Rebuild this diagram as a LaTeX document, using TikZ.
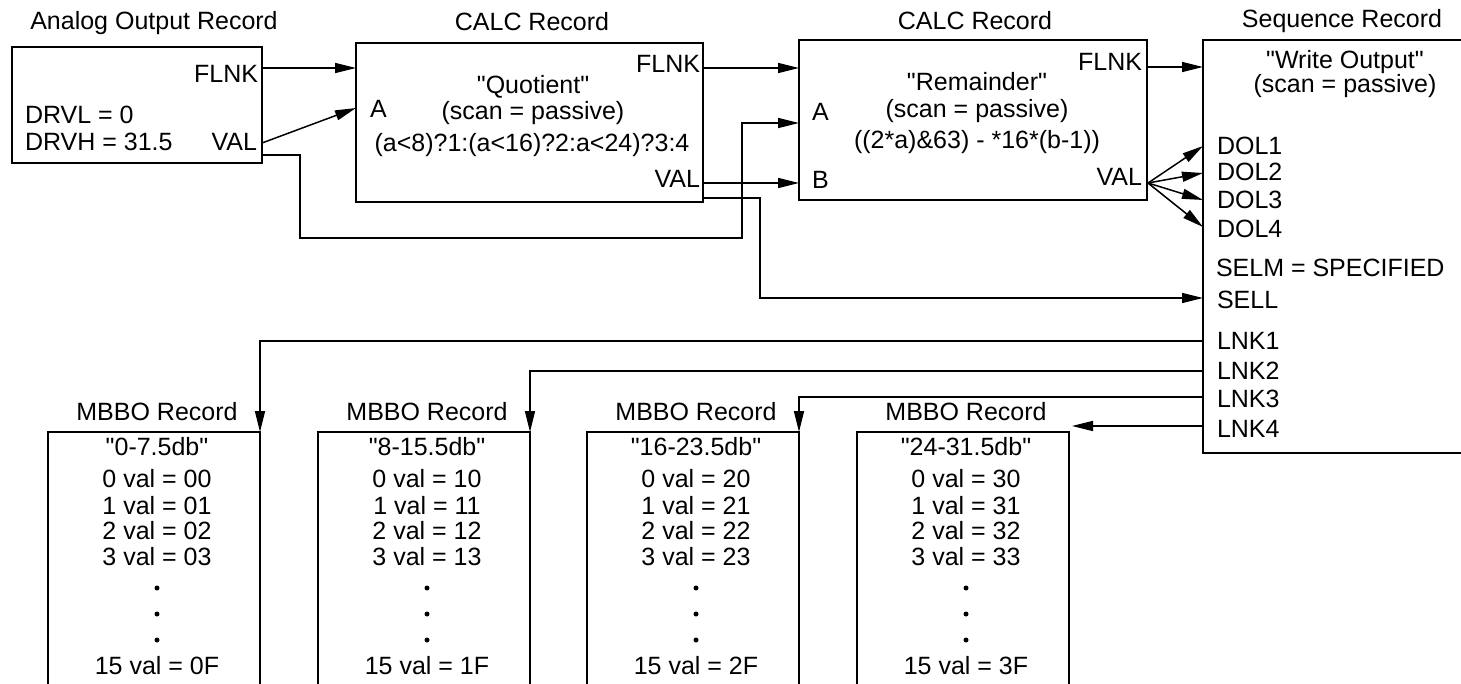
\documentclass[tikz,border=0pt]{standalone}
\usepackage{fontspec}
\setmainfont{Liberation Sans}
\newfontfamily\qfont{Liberation Sans}
\usetikzlibrary{arrows.meta}
\newcommand{\qq}{{\qfont"}}
\begin{document}
\begin{tikzpicture}[x=1pt,y=-1pt,
  font=\fontsize{25}{28}\selectfont,
  line width=1.5pt,
  box/.style={draw, inner sep=0pt, outer sep=0pt},
  lbl/.style={inner sep=0pt, outer sep=0pt},
  arr/.style={-{Triangle[length=21pt,width=10pt]}}]
\useasboundingbox[fill=white] (0,0) rectangle (1461,683);

% Analog Output Record
\node[lbl] (ao-title) at (154,23) {Analog Output Record};
\node[box, minimum width=250pt, minimum height=116pt] (ao) at (137,105) {};
\node[lbl, anchor=east] (ao-flnk-t) at (258,74) {FLNK};
\node[lbl, anchor=east] (ao-val-t) at (257,142) {VAL};
\node[lbl, anchor=west] (ao-drvl) at (25,115) {DRVL = 0};
\node[lbl, anchor=west] (ao-drvh) at (25,142) {DRVH = 31.5};
\coordinate (ao-flnk) at (262,68);
\coordinate (ao-val) at (262,143);
\coordinate (ao-out) at (262,155);

% CALC Record 1
\node[lbl] (c1-title) at (532,22) {CALC Record};
\node[box, minimum width=347pt, minimum height=159pt] (c1) at (529.5,122.5) {};
\node[lbl, anchor=east] (c1-flnk-t) at (700,64) {FLNK};
\node[lbl] (c1-name) at (533,87) {\qq Quotient\qq};
\node[lbl] (c1-scan) at (533,113) {(scan = passive)};
\node[lbl] (c1-calc) at (532,145) {(a<8)?1:(a<16)?2:a<24)?3:4};
\node[lbl, anchor=west] (c1-a-t) at (370,109) {A};
\node[lbl, anchor=east] (c1-val-t) at (700,179) {VAL};
\coordinate (c1-flnkin) at (356,68);
\coordinate (c1-a) at (356,108);
\coordinate (c1-flnk) at (703,68);
\coordinate (c1-val) at (703,183);
\coordinate (c1-out) at (703,198);

% CALC Record 2
\node[lbl] (c2-title) at (975,21) {CALC Record};
\node[box, minimum width=348pt, minimum height=160pt] (c2) at (973,120) {};
\node[lbl, anchor=east] (c2-flnk-t) at (1142,62) {FLNK};
\node[lbl] (c2-name) at (977,82) {\qq Remainder\qq};
\node[lbl] (c2-scan) at (977,111) {(scan = passive)};
\node[lbl] (c2-calc) at (977,142) {((2*a)\&63) - *16*(b-1))};
\node[lbl, anchor=west] (c2-a-t) at (812,112) {A};
\node[lbl, anchor=west] (c2-b-t) at (812,180) {B};
\node[lbl, anchor=east] (c2-val-t) at (1142,177) {VAL};
\coordinate (c2-flnkin) at (799,68);
\coordinate (c2-a) at (799,123);
\coordinate (c2-b) at (799,183);
\coordinate (c2-flnk) at (1147,67);
\coordinate (c2-val) at (1148,183);

% Sequence Record
\node[lbl] (seq-title) at (1342,21) {Sequence Record};
\node[box, minimum width=260pt, minimum height=413pt] (seq) at (1333,246.5) {};
\node[lbl] (seq-name) at (1345,62) {\qq Write Output\qq};
\node[lbl] (seq-scan) at (1345,86) {(scan = passive)};
\node[lbl, anchor=west] (seq-dol1-t) at (1217,146) {DOL1};
\node[lbl, anchor=west] (seq-dol2-t) at (1217,172) {DOL2};
\node[lbl, anchor=west] (seq-dol3-t) at (1217,200) {DOL3};
\node[lbl, anchor=west] (seq-dol4-t) at (1217,229) {DOL4};
\node[lbl, anchor=west] (seq-selm-t) at (1216,268) {SELM = SPECIFIED};
\node[lbl, anchor=west] (seq-sell-t) at (1217,300) {SELL};
\node[lbl, anchor=west] (seq-lnk1-t) at (1217,341) {LNK1};
\node[lbl, anchor=west] (seq-lnk2-t) at (1217,371) {LNK2};
\node[lbl, anchor=west] (seq-lnk3-t) at (1217,399) {LNK3};
\node[lbl, anchor=west] (seq-lnk4-t) at (1217,429) {LNK4};
\coordinate (seq-flnk) at (1203,67);
\coordinate (seq-dol1) at (1203,146);
\coordinate (seq-dol2) at (1203,173);
\coordinate (seq-dol3) at (1203,200);
\coordinate (seq-dol4) at (1203,227);
\coordinate (seq-sell) at (1203,298);
\coordinate (seq-lnk1) at (1203,341);
\coordinate (seq-lnk2) at (1203,371);
\coordinate (seq-lnk3) at (1203,397);
\coordinate (seq-lnk4) at (1203,426);

% MBBO Records
\foreach \cx/\nm/\lab/\dg in {154/m1/0-7.5db/0, 424/m2/8-15.5db/1, 693/m3/16-23.5db/2, 963/m4/24-31.5db/3}{
  \node[lbl] (\nm-title) at (\cx+3,412) {MBBO Record};
  \node[box, minimum width=212pt, minimum height=268pt] (\nm) at (\cx,566) {};
  \node[lbl] (\nm-name) at (\cx+3,447) {\qq\lab\qq};
  \node[lbl] (\nm-v0) at (\cx+3,479) {0 val = \dg0};
  \node[lbl] (\nm-v1) at (\cx+3,506) {1 val = \dg1};
  \node[lbl] (\nm-v2) at (\cx+3,531) {2 val = \dg2};
  \node[lbl] (\nm-v3) at (\cx+3,557) {3 val = \dg3};
  \fill (\cx+3,588) circle (2.5pt);
  \fill (\cx+3,614) circle (2.5pt);
  \fill (\cx+3,640) circle (2.5pt);
  \node[lbl] (\nm-v15) at (\cx+3,666) {15 val = \dg F};
}
\coordinate (m4-in) at (1072,426);

% Connectors
\draw[arr] (ao-flnk) -- (c1-flnkin);
\draw[arr] (ao-val) -- (c1-a);
\draw[arr] (ao-out) -- (300,155) -- (300,238) -- (742,238) -- (742,123) -- (c2-a);
\draw[arr] (c1-flnk) -- (c2-flnkin);
\draw[arr] (c1-val) -- (c2-b);
\draw[arr] (c1-out) -- (760,198) -- (760,298) -- (seq-sell);
\draw[arr] (c2-flnk) -- (seq-flnk);
\draw[arr] (c2-val) -- (seq-dol1);
\draw[arr] (c2-val) -- (seq-dol2);
\draw[arr] (c2-val) -- (seq-dol3);
\draw[arr] (c2-val) -- (seq-dol4);
\draw[arr] (seq-lnk1) -| (m1.north east);
\draw[arr] (seq-lnk2) -| (m2.north east);
\draw[arr] (seq-lnk3) -| (m3.north east);
\draw[arr] (seq-lnk4) -- (m4-in);
\end{tikzpicture}
\end{document}
